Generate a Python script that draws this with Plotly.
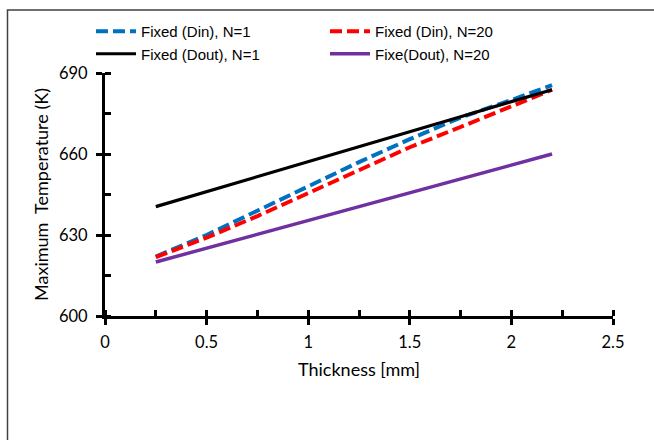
import plotly.graph_objects as go

# Maximum temperature vs. thickness for the four configurations
thickness = [0.25, 0.5, 0.75, 1.0, 1.25, 1.5, 1.75, 2.0, 2.2]
din_n1 = [622.0, 630.0, 639.0, 648.0, 657.0, 665.5, 673.5, 680.0, 685.5]
din_n20 = [621.8, 629.0, 637.0, 645.5, 654.0, 662.5, 670.0, 677.5, 683.8]
dout_n1 = [640.5, 646.0, 651.6, 657.2, 662.7, 668.3, 673.8, 679.4, 683.8]
dout_n20 = [620.0, 625.1, 630.3, 635.4, 640.5, 645.6, 650.8, 655.9, 660.0]

series_names = ["Fixed (Din), N=1", "Fixed (Din), N=20",
                "Fixed (Dout), N=1", "Fixe(Dout), N=20"]

x_ticks = [0, 0.5, 1, 1.5, 2, 2.5]
x_tick_text = ["0", "0.5", "1", "1.5", "2", "2.5"]
y_ticks = [600, 630, 660, 690]

TICK_FONT = dict(family="Lato, 'Open Sans', sans-serif", size=16.5, color="#000000")
LEGEND_FONT = dict(family="'Liberation Sans', Arial, sans-serif", size=15, color="#000000")

fig = go.Figure()
fig.add_trace(go.Scatter(x=thickness, y=din_n1, mode="lines", name=series_names[0],
                         line=dict(color="#0070C0", width=4, dash="12px,5px")))
fig.add_trace(go.Scatter(x=thickness, y=din_n20, mode="lines", name=series_names[1],
                         line=dict(color="#FF0000", width=4, dash="12px,5px")))
fig.add_trace(go.Scatter(x=thickness, y=dout_n1, mode="lines", name=series_names[2],
                         line=dict(color="#000000", width=3.2)))
fig.add_trace(go.Scatter(x=thickness, y=dout_n20, mode="lines", name=series_names[3],
                         line=dict(color="#7030A0", width=3.5)))

L, R, T, B = 105, 41, 73, 124
W, H = 654, 440
pw, ph = W - L - R, H - T - B


def px_x(px):
    return (px - L) / pw


def px_y(py):
    return (H - B - py) / ph


fig.update_layout(
    width=W, height=H,
    margin=dict(l=L, r=R, t=T, b=B, pad=0, autoexpand=False),
    paper_bgcolor="white", plot_bgcolor="white",
    showlegend=True,
    legend=dict(
        orientation="h", x=px_x(91), xanchor="left",
        y=px_y(15), yanchor="top",
        font=LEGEND_FONT, entrywidth=179, entrywidthmode="pixels",
        bgcolor="rgba(0,0,0,0)", borderwidth=0, itemwidth=40,
    ),
    xaxis=dict(
        range=[0, 2.5], tickvals=x_ticks, ticktext=x_tick_text,
        showline=True, linecolor="black", linewidth=3,
        ticks="outside", ticklen=6, tickwidth=3, tickcolor="black",
        minor=dict(dtick=0.25, ticks="inside", ticklen=6, tickwidth=3, tickcolor="black"),
        showgrid=False, zeroline=False, tickfont=TICK_FONT,
        title=dict(text="Thickness [mm]", font=dict(family="Lato, sans-serif", size=18, color="black"), standoff=13),
        ticklabelstandoff=3,
    ),
    yaxis=dict(
        range=[600, 690], tickvals=y_ticks,
        showline=True, linecolor="black", linewidth=3,
        ticks="outside", ticklen=6, tickwidth=3, tickcolor="black",
        minor=dict(dtick=15, ticks="inside", ticklen=6, tickwidth=3, tickcolor="black"),
        showgrid=False, zeroline=False, tickfont=TICK_FONT,
        title=dict(text="Maximum  Temperature (K)", font=dict(family="Lato, sans-serif", size=18, color="black"), standoff=6),
        ticklabelstandoff=5,
    ),
    # inward half of the crossing major ticks
    xaxis2=dict(overlaying="x", anchor="y", range=[0, 2.5], tickvals=x_ticks,
                ticks="inside", ticklen=6, tickwidth=3, tickcolor="black",
                showticklabels=False, showline=False, showgrid=False, zeroline=False),
    yaxis2=dict(overlaying="y", anchor="x", range=[600, 690], tickvals=y_ticks,
                ticks="inside", ticklen=6, tickwidth=3, tickcolor="black",
                showticklabels=False, showline=False, showgrid=False, zeroline=False),
    shapes=[dict(type="rect", xref="paper", yref="paper",
                 x0=px_x(7.5), x1=px_x(W + 20),
                 y0=px_y(H + 20), y1=px_y(10),
                 line=dict(color="#404040", width=1.5), fillcolor="rgba(0,0,0,0)",
                 layer="below")],
)

fig.write_html("out.html")
